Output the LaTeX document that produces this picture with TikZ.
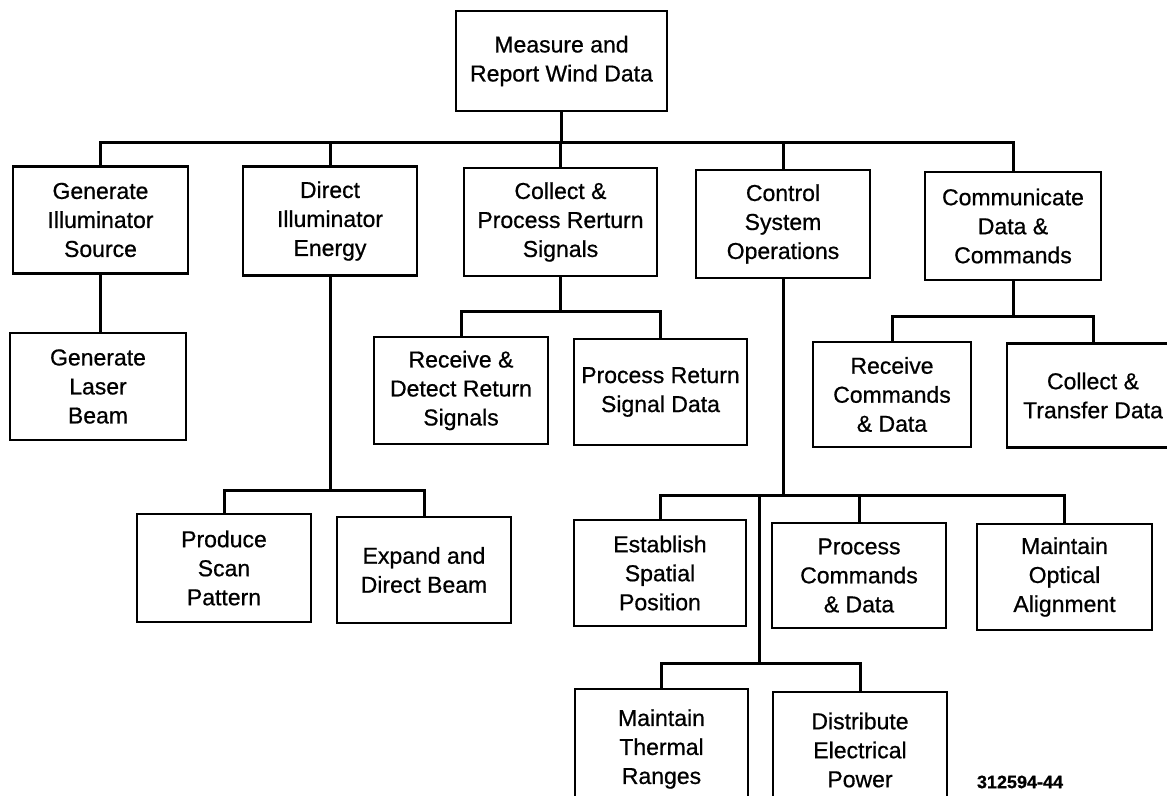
\documentclass[tikz,border=0pt]{standalone}
\usepackage{fontspec}
\setmainfont{Liberation Sans}[FakeBold=0.7]
\newfontfamily\boxfont{Liberation Sans}[FakeBold=0.7]
\begin{document}
\begin{tikzpicture}[x=1pt,y=-1pt,
  fbox/.style={draw, line width=2.4pt, align=center, inner sep=0pt,
    font=\boxfont\fontsize{23}{29}\selectfont, minimum width=174pt, minimum height=107pt},
  link/.style={line width=3pt, line cap=rect},
  tag/.style={font=\boxfont\bfseries\fontsize{18}{20}\selectfont, inner sep=0pt}]
\useasboundingbox (0,0) rectangle (1167,795);
\clip (0,0) rectangle (1167,795);

% root
\node[fbox, minimum width=211pt, minimum height=100pt] (root) at (561.5,61) {Measure and\\Report Wind Data};

% first level
\node[fbox, minimum width=175pt] (gis) at (100.5,220) {Generate\\Illuminator\\Source};
\node[fbox, minimum height=109pt] (die) at (330,221) {Direct\\Illuminator\\Energy};
\node[fbox, minimum width=193pt, minimum height=108pt] (cpr) at (560.5,222) {Collect \&\\Process Rerturn\\Signals};
\node[fbox, minimum height=108pt] (cso) at (783,224) {Control\\System\\Operations};
\node[fbox, minimum width=176pt, minimum height=108pt] (cdc) at (1013,226) {Communicate\\Data \&\\Commands};

% second level
\node[fbox, minimum width=176pt] (glb) at (98,386.5) {Generate\\Laser\\Beam};
\node[fbox] (rdr) at (461,390.5) {Receive \&\\Detect Return\\Signals};
\node[fbox, minimum width=173pt, minimum height=106pt] (prs) at (660.5,392) {Process Return\\Signal Data};
\node[fbox, minimum width=158pt, minimum height=105pt] (rcd) at (892,394.5) {Receive\\Commands\\\& Data};
\node[fbox, minimum width=172pt, minimum height=104pt] (ctd) at (1093,395.5) {Collect \&\\Transfer Data};

% third level
\node[fbox, minimum height=108pt] (psp) at (224,568) {Produce\\Scan\\Pattern};
\node[fbox, minimum height=106pt] (edb) at (424,570) {Expand and\\Direct Beam};
\node[fbox, minimum width=172pt, minimum height=106pt] (esp) at (660,573) {Establish\\Spatial\\Position};
\node[fbox, minimum height=105pt] (pcd) at (859,575.5) {Process\\Commands\\\& Data};
\node[fbox, minimum width=175pt, minimum height=106pt] (moa) at (1064.5,577) {Maintain\\Optical\\Alignment};

% fourth level (lower edges run past the page)
\node[fbox, minimum width=173pt, minimum height=120pt] (mtr) at (661.5,749) {Maintain\\Thermal\\Ranges};
\node[fbox, minimum height=116pt] (dep) at (860,750) {Distribute\\Electrical\\Power};

\node[tag] (num) at (1020,782) {312594-44};

% bus levels
\coordinate (bus0) at (0,142.5);
\coordinate (busB) at (0,490);
\coordinate (busC) at (0,311);
\coordinate (busD) at (0,495);
\coordinate (busE) at (0,316);
\coordinate (busF) at (0,663);
\coordinate (dsplit) at (759,495);

% root to first level
\draw[link] (root.south) -- (root.south |- bus0);
\draw[link] (gis.north |- bus0) -- (cdc.north |- bus0);
\foreach \n in {gis,die,cpr,cso,cdc}
  \draw[link] (\n.north) -- (\n.north |- bus0);

% generate illuminator source
\draw[link] (gis.south) -- (gis.south |- glb.north);

% direct illuminator energy
\draw[link] (die.south) -- (die.south |- busB);
\draw[link] (psp.north |- busB) -- (edb.north |- busB);
\draw[link] (psp.north) -- (psp.north |- busB);
\draw[link] (edb.north) -- (edb.north |- busB);

% collect and process return signals
\draw[link] (cpr.south) -- (cpr.south |- busC);
\draw[link] (rdr.north |- busC) -- (prs.north |- busC);
\draw[link] (rdr.north) -- (rdr.north |- busC);
\draw[link] (prs.north) -- (prs.north |- busC);

% control system operations
\draw[link] (cso.south) -- (cso.south |- busD);
\draw[link] (esp.north |- busD) -- (moa.north |- busD);
\draw[link] (esp.north) -- (esp.north |- busD);
\draw[link] (pcd.north) -- (pcd.north |- busD);
\draw[link] (moa.north) -- (moa.north |- busD);
\draw[link] (dsplit) -- (dsplit |- busF);
\draw[link] (mtr.north |- busF) -- (dep.north |- busF);
\draw[link] (mtr.north) -- (mtr.north |- busF);
\draw[link] (dep.north) -- (dep.north |- busF);

% communicate data and commands
\draw[link] (cdc.south) -- (cdc.south |- busE);
\draw[link] (rcd.north |- busE) -- (ctd.north |- busE);
\draw[link] (rcd.north) -- (rcd.north |- busE);
\draw[link] (ctd.north) -- (ctd.north |- busE);
\end{tikzpicture}
\end{document}
